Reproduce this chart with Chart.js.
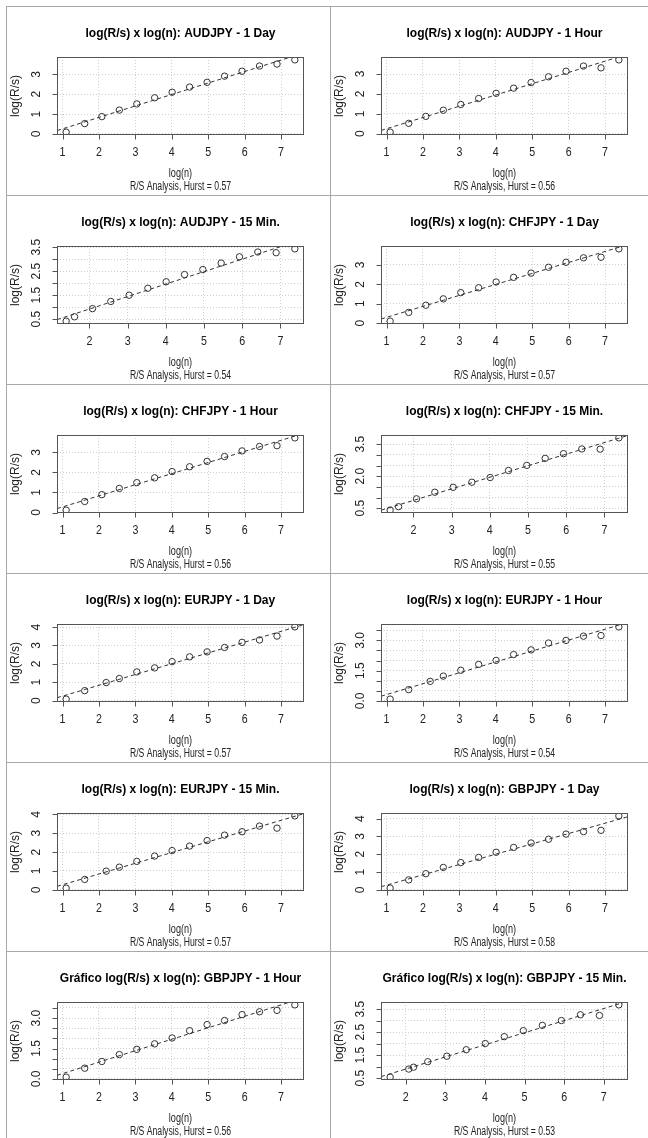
<!DOCTYPE html>
<html>
<head>
<meta charset="utf-8">
<script src="https://cdn.jsdelivr.net/npm/chart.js@4.4.0/dist/chart.umd.min.js"></script>
<style>
html, body { margin: 0; padding: 0; background: #fff; overflow: hidden; width: 648px; height: 1138px; }
#wrap { position: relative; width: 648px; height: 1138px; overflow: hidden; background: #fff; }
.panel { position: absolute; }
.panel canvas { display: block; }
.hline { position: absolute; height: 1px; background: #a8a8a8; z-index: 3; }
.vline { position: absolute; width: 1px; background: #a8a8a8; z-index: 3; }
</style>
</head>
<body>
<div id="wrap"></div>
<script>
// ---- x values: log(n) ----
const xStd   = [1.10, 1.61, 2.08, 2.56, 3.04, 3.53, 4.01, 4.49, 4.97, 5.45, 5.93, 6.41, 6.89, 7.38];
const x15    = [1.39, 1.61, 2.08, 2.56, 3.04, 3.53, 4.01, 4.49, 4.97, 5.45, 5.93, 6.41, 6.89, 7.38];
const xEur   = [1.10, 1.61, 2.20, 2.56, 3.04, 3.53, 4.01, 4.49, 4.97, 5.45, 5.93, 6.41, 6.89, 7.38];
const xGbp15 = [1.61, 2.08, 2.20, 2.56, 3.04, 3.53, 4.01, 4.49, 4.97, 5.45, 5.93, 6.41, 6.89, 7.38];

// ---- y values: log(R/s) ----
const audDay  = [0.09, 0.52, 0.87, 1.20, 1.51, 1.82, 2.10, 2.36, 2.60, 2.91, 3.16, 3.42, 3.52, 3.73];
const audHour = [0.08, 0.52, 0.87, 1.18, 1.47, 1.77, 2.03, 2.29, 2.57, 2.86, 3.14, 3.40, 3.31, 3.71];
const aud15   = [0.42, 0.60, 0.94, 1.24, 1.50, 1.79, 2.06, 2.36, 2.57, 2.84, 3.10, 3.30, 3.27, 3.43];
const chfDay  = [0.10, 0.55, 0.92, 1.25, 1.57, 1.82, 2.12, 2.36, 2.58, 2.88, 3.14, 3.37, 3.40, 3.83];
const chfHour = [0.12, 0.55, 0.89, 1.20, 1.49, 1.73, 2.04, 2.28, 2.55, 2.79, 3.07, 3.29, 3.33, 3.72];
const chf15   = [0.41, 0.57, 0.94, 1.25, 1.48, 1.72, 1.94, 2.27, 2.51, 2.84, 3.06, 3.28, 3.27, 3.80];
const eurDay  = [0.08, 0.54, 0.98, 1.20, 1.56, 1.78, 2.12, 2.38, 2.65, 2.89, 3.17, 3.30, 3.51, 4.01];
const eurHour = [0.09, 0.56, 0.97, 1.23, 1.52, 1.81, 2.01, 2.30, 2.53, 2.87, 3.00, 3.21, 3.24, 3.67];
const eur15   = [0.09, 0.55, 0.99, 1.20, 1.51, 1.79, 2.08, 2.32, 2.61, 2.90, 3.08, 3.38, 3.27, 3.92];
const gbpDay  = [0.10, 0.56, 0.91, 1.26, 1.53, 1.82, 2.11, 2.38, 2.63, 2.84, 3.13, 3.27, 3.34, 4.15];
const gbpHour = [0.09, 0.53, 0.86, 1.20, 1.46, 1.73, 2.02, 2.38, 2.68, 2.88, 3.17, 3.31, 3.38, 3.65];
const gbp15   = [0.55, 0.90, 0.98, 1.22, 1.46, 1.74, 2.01, 2.31, 2.57, 2.80, 3.01, 3.26, 3.23, 3.69];

// ---- panel texts ----
const panelTitles = [
  'log(R/s) x log(n): AUDJPY - 1 Day',
  'log(R/s) x log(n): AUDJPY - 1 Hour',
  'log(R/s) x log(n): AUDJPY - 15 Min.',
  'log(R/s) x log(n): CHFJPY - 1 Day',
  'log(R/s) x log(n): CHFJPY - 1 Hour',
  'log(R/s) x log(n): CHFJPY - 15 Min.',
  'log(R/s) x log(n): EURJPY - 1 Day',
  'log(R/s) x log(n): EURJPY - 1 Hour',
  'log(R/s) x log(n): EURJPY - 15 Min.',
  'log(R/s) x log(n): GBPJPY - 1 Day',
  'Gráfico log(R/s) x log(n): GBPJPY - 1 Hour',
  'Gráfico log(R/s) x log(n): GBPJPY - 15 Min.'
];
const hurstValues = ['0.57', '0.56', '0.54', '0.57', '0.56', '0.55', '0.57', '0.54', '0.57', '0.58', '0.56', '0.53'];
const xAxisTitle = 'log(n)';
const yAxisTitle = 'log(R/s)';
const subtitlePrefix = 'R/S Analysis, Hurst = ';

// ---- ticks ----
const xTickLabels = ['1', '2', '3', '4', '5', '6', '7'];
const yTickSteps  = [1, 1, 0.5, 1, 1, 0.5, 1, 0.5, 1, 1, 0.5, 0.5];
const yLabelsInt3 = ['0', '1', '2', '3'];
const yLabelsInt4 = ['0', '1', '2', '3', '4'];
const yLabelsHalfA = ['0.5', '1.5', '2.5', '3.5'];
const yLabelsHalfB = ['0.5', '2.0', '3.5'];
const yLabelsHalfC = ['0.0', '1.5', '3.0'];
const yTickLabels = [yLabelsInt3, yLabelsInt3, yLabelsHalfA, yLabelsInt3, yLabelsInt3, yLabelsHalfB,
                     yLabelsInt4, yLabelsHalfC, yLabelsInt4, yLabelsInt4, yLabelsHalfC, yLabelsHalfA];

const panelX = [xStd, xStd, x15, xStd, xStd, x15, xEur, xEur, xEur, xStd, xStd, xGbp15];
const panelY = [audDay, audHour, aud15, chfDay, chfHour, chf15, eurDay, eurHour, eur15, gbpDay, gbpHour, gbp15];

// ---- layout ----
const ROW_H = 189, TOP0 = 6, LEFT_COL = 6, RIGHT_COL = 330;
const FONT = '"Liberation Sans", Arial, Helvetica, sans-serif';

function rRange(v) {
  const lo = Math.min(...v), hi = Math.max(...v), d = (hi - lo) * 0.04;
  return [lo - d, hi + d];
}
function lsFit(xs, ys) {
  const n = xs.length;
  const mx = xs.reduce((a, b) => a + b, 0) / n, my = ys.reduce((a, b) => a + b, 0) / n;
  let sxy = 0, sxx = 0;
  for (let i = 0; i < n; i++) { sxy += (xs[i] - mx) * (ys[i] - my); sxx += (xs[i] - mx) ** 2; }
  const m = sxy / sxx;
  return { m, b: my - m * mx };
}

function labelFor(list, v) {
  for (let k = 0; k < list.length; k++) {
    if (Math.abs(parseFloat(list[k]) - v) < 1e-6) return list[k];
  }
  return null;
}

const rDecor = {
  id: 'rDecor',
  afterDraw(chart) {
    const idx = parseInt(chart.canvas.getAttribute('data-panel'), 10);
    const ctx = chart.ctx, a = chart.chartArea, xs = chart.scales.x, ys = chart.scales.y;
    ctx.save();
    // box
    ctx.strokeStyle = '#555';
    ctx.lineWidth = 1;
    ctx.setLineDash([]);
    ctx.strokeRect(a.left + 0.5, a.top + 0.5, a.right - a.left - 1, a.bottom - a.top - 1);

    // x axis
    const xt = xs.ticks.map(t => t.value);
    const xp = xt.map(v => Math.round(xs.getPixelForValue(v)) + 0.5);
    const yb = a.bottom - 0.5;
    ctx.beginPath();
    ctx.moveTo(xp[0], yb); ctx.lineTo(xp[xp.length - 1], yb);
    xp.forEach(p => { ctx.moveTo(p, yb); ctx.lineTo(p, yb + 5); });
    ctx.stroke();
    ctx.fillStyle = '#222';
    ctx.textAlign = 'center';
    ctx.textBaseline = 'middle';
    ctx.font = '13px ' + FONT;
    xt.forEach(v => {
      const lab = labelFor(xTickLabels, v);
      if (lab === null) return;
      ctx.save();
      ctx.translate(xs.getPixelForValue(v), a.bottom + 17);
      ctx.scale(0.82, 1);
      ctx.fillText(lab, 0, 0);
      ctx.restore();
    });

    // y axis
    const yt = ys.ticks.map(t => t.value);
    const yp = yt.map(v => Math.round(ys.getPixelForValue(v)) + 0.5);
    const xl = a.left + 0.5;
    ctx.beginPath();
    ctx.moveTo(xl, yp[0]); ctx.lineTo(xl, yp[yp.length - 1]);
    yp.forEach(p => { ctx.moveTo(xl, p); ctx.lineTo(xl - 5, p); });
    ctx.stroke();
    ctx.font = '12px ' + FONT;
    yt.forEach(v => {
      const lab = labelFor(yTickLabels[idx], v);
      if (lab === null) return;
      ctx.save();
      ctx.translate(a.left - 20, ys.getPixelForValue(v));
      ctx.rotate(-Math.PI / 2);
      ctx.fillText(lab, 0, 0);
      ctx.restore();
    });

    // axis titles
    ctx.font = '12px ' + FONT;
    ctx.save();
    ctx.translate(a.left - 41, (a.top + a.bottom) / 2);
    ctx.rotate(-Math.PI / 2);
    ctx.fillText(yAxisTitle, 0, 0);
    ctx.restore();

    const cx = (a.left + a.right) / 2;
    ctx.font = '12px ' + FONT;
    ctx.save();
    ctx.translate(cx, a.bottom + 39);
    ctx.scale(0.76, 1);
    ctx.fillText(xAxisTitle, 0, 0);
    ctx.restore();
    ctx.save();
    ctx.translate(cx, a.bottom + 52);
    ctx.scale(0.72, 1);
    ctx.fillText(subtitlePrefix + hurstValues[idx], 0, 0);
    ctx.restore();

    // main title
    ctx.fillStyle = '#000';
    ctx.font = 'bold 12px ' + FONT;
    ctx.fillText(panelTitles[idx], cx, a.top - 23.5);
    ctx.restore();
  }
};

const wrap = document.getElementById('wrap');
for (let i = 0; i < 12; i++) {
  const row = Math.floor(i / 2), col = i % 2;
  const left = col === 0 ? LEFT_COL : RIGHT_COL;
  const top = TOP0 + row * ROW_H;
  const W = col === 0 ? 324 : 648 - RIGHT_COL;
  const H = ROW_H;
  const div = document.createElement('div');
  div.className = 'panel';
  div.style.left = left + 'px';
  div.style.top = top + 'px';
  div.style.width = W + 'px';
  div.style.height = H + 'px';
  const cv = document.createElement('canvas');
  cv.setAttribute('data-panel', String(i));
  cv.width = W; cv.height = H;
  cv.style.width = W + 'px'; cv.style.height = H + 'px';
  div.appendChild(cv);
  wrap.appendChild(div);

  const xs = panelX[i], ysv = panelY[i];
  const [xmin, xmax] = rRange(xs);
  const [ymin, ymax] = rRange(ysv);
  const fit = lsFit(xs, ysv);
  const pts = xs.map((x, k) => ({ x: x, y: ysv[k] }));
  const fitPts = [{ x: xmin, y: fit.b + fit.m * xmin }, { x: xmax, y: fit.b + fit.m * xmax }];

  new Chart(cv, {
    type: 'scatter',
    data: {
      datasets: [
        { data: fitPts, showLine: true, borderColor: '#333', borderWidth: 1, borderDash: [4, 3],
          pointRadius: 0, pointHoverRadius: 0, fill: false, tension: 0 },
        { data: pts, showLine: false, borderColor: '#333', backgroundColor: 'rgba(0,0,0,0)',
          pointRadius: 3.2, pointHoverRadius: 3.2, pointBorderWidth: 1, pointStyle: 'circle' }
      ]
    },
    options: {
      responsive: false,
      animation: false,
      devicePixelRatio: 1,
      events: [],
      layout: { padding: { left: 51, top: 51, right: W - 298, bottom: H - 129 } },
      plugins: {
        legend: { display: false },
        tooltip: { enabled: false },
        title: { display: false }
      },
      scales: {
        x: {
          type: 'linear', min: xmin, max: xmax,
          afterFit: s => { s.height = 0; },
          ticks: { display: false, stepSize: 1, includeBounds: false },
          grid: { color: '#cfcfcf', lineWidth: 1, drawTicks: false },
          border: { display: false, dash: [1, 2] }
        },
        y: {
          type: 'linear', min: ymin, max: ymax,
          afterFit: s => { s.width = 0; },
          ticks: { display: false, stepSize: yTickSteps[i], includeBounds: false },
          grid: { color: '#cfcfcf', lineWidth: 1, drawTicks: false },
          border: { display: false, dash: [1, 2] }
        }
      }
    },
    plugins: [rDecor]
  });
}

// frame lines
for (let r = 0; r < 6; r++) {
  const h = document.createElement('div');
  h.className = 'hline';
  h.style.left = LEFT_COL + 'px';
  h.style.width = (648 - LEFT_COL) + 'px';
  h.style.top = (TOP0 + r * ROW_H) + 'px';
  wrap.appendChild(h);
}
[LEFT_COL, RIGHT_COL].forEach(x => {
  const v = document.createElement('div');
  v.className = 'vline';
  v.style.left = x + 'px';
  v.style.top = TOP0 + 'px';
  v.style.height = (1138 - TOP0) + 'px';
  wrap.appendChild(v);
});
</script>
</body>
</html>
